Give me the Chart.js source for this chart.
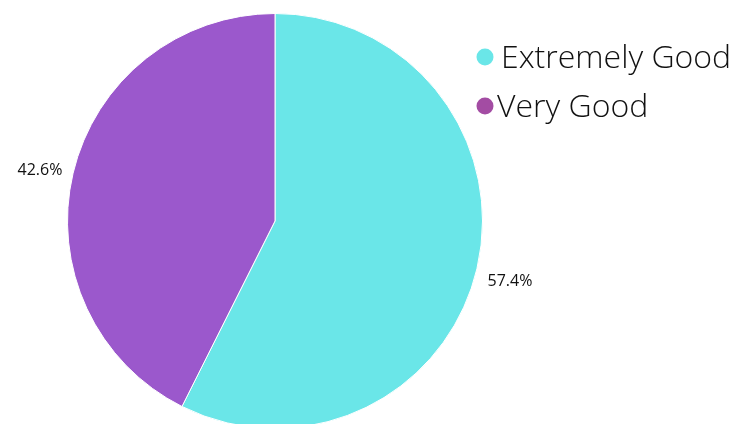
<!DOCTYPE html>
<html lang="en">
<head>
  <meta charset="UTF-8">
  <title>Pie</title>
  <script src="https://cdn.jsdelivr.net/npm/chart.js"></script>
  <style>
    html, body {
      margin: 0;
      padding: 0;
      background: #fff;
      overflow: hidden;
    }
    #pieChart {
      display: block;
    }
  </style>
</head>
<body>
  <canvas id="pieChart" width="745" height="442"></canvas>

  <script>
    const labels = ['Extremely Good', 'Very Good'];
    const values = [57.4, 42.6];
    const sliceColors = ['#6ae6e8', '#9b58cc'];
    const legendColors = ['#6ae6e8', '#a34ca3'];

    // percent labels just outside each slice
    const outsideLabels = {
      id: 'outsideLabels',
      afterDatasetsDraw(chart) {
        const ctx = chart.ctx;
        const meta = chart.getDatasetMeta(0);
        ctx.save();
        ctx.font = '16px "Open Sans"';
        ctx.fillStyle = '#111';
        ctx.textAlign = 'center';
        ctx.textBaseline = 'middle';
        meta.data.forEach((arc, i) => {
          const mid = (arc.startAngle + arc.endAngle) / 2;
          const r = arc.outerRadius + 34;
          const x = arc.x + Math.cos(mid) * r;
          const y = arc.y + Math.sin(mid) * r + 5;
          ctx.fillText(values[i].toFixed(1) + '%', x, y);
        });
        ctx.restore();
      }
    };

    // legend drawn top right with round markers
    const sideLegend = {
      id: 'sideLegend',
      afterDraw(chart) {
        const ctx = chart.ctx;
        ctx.save();
        ctx.font = '300 32px "Open Sans"';
        ctx.textBaseline = 'alphabetic';
        ctx.textAlign = 'left';
        labels.forEach((label, i) => {
          const cy = 57 + i * 49;
          ctx.beginPath();
          ctx.arc(485, cy, 8.5, 0, Math.PI * 2);
          ctx.fillStyle = legendColors[i];
          ctx.fill();
          ctx.fillStyle = '#111';
          ctx.fillText(label, i === 0 ? 501 : 497, cy + 11);
        });
        ctx.restore();
      }
    };

    new Chart(document.getElementById('pieChart'), {
      type: 'pie',
      data: {
        labels: labels,
        datasets: [{
          data: values,
          backgroundColor: sliceColors,
          borderColor: '#ffffff',
          borderWidth: 1
        }]
      },
      options: {
        responsive: false,
        animation: false,
        layout: {
          padding: { left: 67, right: 262, top: 13, bottom: 13 }
        },
        plugins: {
          legend: { display: false },
          tooltip: { enabled: false }
        }
      },
      plugins: [outsideLabels, sideLegend]
    });
  </script>
</body>
</html>
